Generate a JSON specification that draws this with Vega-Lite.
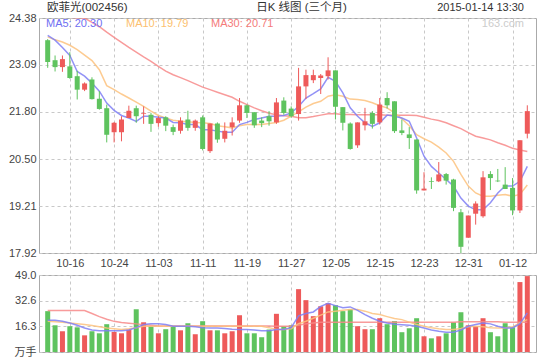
{
  "$schema": "https://vega.github.io/schema/vega-lite/v6.json",
  "padding": {"left": 0, "top": 1, "right": 0, "bottom": 0},
  "background": "white",
  "spacing": -2,
  "config": {
    "view": {"stroke": "#aaaaaa", "strokeWidth": 1},
    "axis": {"labelFont": "Liberation Sans, Noto Sans CJK SC", "labelFontSize": 11, "labelColor": "#444444", "ticks": false, "domain": false, "gridColor": "#c8c8c8", "gridDash": [3, 3], "gridWidth": 1},
    "axisY": {"labelFlush": false, "labelBaseline": "middle"},
    "text": {"font": "Liberation Sans, Noto Sans CJK SC"}
  },
  "datasets": {
    "k": [
      {"d":"10-13","i":1,"o":23.77,"h":23.80,"l":23.01,"c":23.17,"v":26.0,"m5":23.90,"m10":23.86,"m30":24.42,"vm5":20.2,"vm10":19.6,"vm30":26.4},
      {"d":"10-14","i":2,"o":23.22,"h":23.35,"l":22.91,"c":23.03,"v":17.0,"m5":23.77,"m10":23.78,"m30":24.42,"vm5":20.2,"vm10":19.3,"vm30":26.4},
      {"d":"10-15","i":3,"o":23.03,"h":23.35,"l":22.90,"c":23.25,"v":13.2,"m5":23.57,"m10":23.72,"m30":24.41,"vm5":19.6,"vm10":19.0,"vm30":26.4},
      {"d":"10-16","i":4,"o":23.05,"h":23.44,"l":22.71,"c":22.73,"v":16.4,"m5":23.35,"m10":23.63,"m30":24.40,"vm5":18.5,"vm10":18.5,"vm30":26.4},
      {"d":"10-17","i":5,"o":22.78,"h":22.93,"l":22.14,"c":22.41,"v":15.7,"m5":22.91,"m10":23.51,"m30":24.39,"vm5":17.0,"vm10":18.0,"vm30":26.4},
      {"d":"10-20","i":6,"o":22.41,"h":22.61,"l":22.37,"c":22.58,"v":10.6,"m5":22.78,"m10":23.36,"m30":24.38,"vm5":15.3,"vm10":17.5,"vm30":26.4},
      {"d":"10-21","i":7,"o":22.69,"h":22.75,"l":22.14,"c":22.15,"v":13.2,"m5":22.59,"m10":23.21,"m30":24.26,"vm5":14.0,"vm10":16.8,"vm30":24.5},
      {"d":"10-22","i":8,"o":22.16,"h":22.37,"l":21.86,"c":21.88,"v":11.9,"m5":22.37,"m10":22.96,"m30":24.14,"vm5":13.6,"vm10":16.0,"vm30":22.5},
      {"d":"10-23","i":9,"o":21.90,"h":22.00,"l":20.96,"c":21.17,"v":17.7,"m5":22.04,"m10":22.52,"m30":23.99,"vm5":13.6,"vm10":15.3,"vm30":20.8},
      {"d":"10-24","i":10,"o":21.24,"h":21.52,"l":20.96,"c":21.50,"v":12.8,"m5":21.84,"m10":22.41,"m30":23.85,"vm5":13.6,"vm10":14.8,"vm30":19.5},
      {"d":"10-27","i":11,"o":21.24,"h":21.68,"l":20.99,"c":21.59,"v":11.9,"m5":21.70,"m10":22.29,"m30":23.71,"vm5":13.6,"vm10":14.3,"vm30":18.8},
      {"d":"10-28","i":12,"o":21.63,"h":21.97,"l":21.63,"c":21.83,"v":14.3,"m5":21.63,"m10":22.18,"m30":23.57,"vm5":14.0,"vm10":14.8,"vm30":18.3},
      {"d":"10-29","i":13,"o":21.90,"h":21.97,"l":21.50,"c":21.68,"v":27.2,"m5":21.54,"m10":22.07,"m30":23.44,"vm5":15.5,"vm10":15.5,"vm30":17.9},
      {"d":"10-30","i":14,"o":21.74,"h":21.95,"l":21.47,"c":21.76,"v":18.9,"m5":21.68,"m10":21.95,"m30":23.31,"vm5":17.5,"vm10":16.4,"vm30":17.3},
      {"d":"10-31","i":15,"o":21.72,"h":21.77,"l":21.25,"c":21.47,"v":16.4,"m5":21.68,"m10":21.82,"m30":23.19,"vm5":17.9,"vm10":16.4,"vm30":17.0},
      {"d":"11-03","i":16,"o":21.49,"h":21.68,"l":21.39,"c":21.63,"v":11.9,"m5":21.65,"m10":21.70,"m30":23.05,"vm5":17.9,"vm10":16.4,"vm30":16.6},
      {"d":"11-04","i":17,"o":21.65,"h":21.68,"l":21.27,"c":21.42,"v":14.5,"m5":21.63,"m10":21.63,"m30":22.92,"vm5":17.5,"vm10":16.4,"vm30":16.6},
      {"d":"11-05","i":18,"o":21.38,"h":21.45,"l":21.16,"c":21.25,"v":16.4,"m5":21.51,"m10":21.57,"m30":22.82,"vm5":16.4,"vm10":16.4,"vm30":16.6},
      {"d":"11-06","i":19,"o":21.28,"h":21.65,"l":21.20,"c":21.56,"v":13.8,"m5":21.50,"m10":21.54,"m30":22.74,"vm5":16.4,"vm10":16.4,"vm30":16.6},
      {"d":"11-07","i":20,"o":21.59,"h":21.83,"l":21.28,"c":21.36,"v":18.3,"m5":21.45,"m10":21.53,"m30":22.66,"vm5":16.4,"vm10":16.4,"vm30":16.6},
      {"d":"11-10","i":21,"o":21.36,"h":21.59,"l":21.28,"c":21.56,"v":11.3,"m5":21.45,"m10":21.51,"m30":22.57,"vm5":16.0,"vm10":16.4,"vm30":16.6},
      {"d":"11-11","i":22,"o":21.65,"h":21.70,"l":20.74,"c":20.78,"v":19.6,"m5":21.31,"m10":21.50,"m30":22.48,"vm5":15.5,"vm10":16.4,"vm30":16.6},
      {"d":"11-12","i":23,"o":20.72,"h":21.48,"l":20.67,"c":21.48,"v":13.8,"m5":21.31,"m10":21.48,"m30":22.41,"vm5":15.3,"vm10":16.4,"vm30":16.6},
      {"d":"11-13","i":24,"o":21.48,"h":21.51,"l":20.95,"c":21.04,"v":13.8,"m5":21.27,"m10":21.42,"m30":22.34,"vm5":15.3,"vm10":16.4,"vm30":16.6},
      {"d":"11-14","i":25,"o":21.06,"h":21.51,"l":20.96,"c":21.28,"v":11.9,"m5":21.24,"m10":21.39,"m30":22.27,"vm5":15.0,"vm10":16.4,"vm30":16.6},
      {"d":"11-17","i":26,"o":21.38,"h":21.65,"l":21.15,"c":21.51,"v":13.2,"m5":21.24,"m10":21.36,"m30":22.20,"vm5":14.5,"vm10":16.4,"vm30":16.6},
      {"d":"11-18","i":27,"o":21.56,"h":22.18,"l":21.50,"c":21.98,"v":23.4,"m5":21.45,"m10":21.42,"m30":22.09,"vm5":14.3,"vm10":16.4,"vm30":16.6},
      {"d":"11-19","i":28,"o":21.98,"h":22.00,"l":21.63,"c":21.77,"v":11.9,"m5":21.51,"m10":21.45,"m30":22.00,"vm5":14.3,"vm10":16.4,"vm30":16.6},
      {"d":"11-20","i":29,"o":21.79,"h":21.79,"l":21.36,"c":21.43,"v":11.9,"m5":21.59,"m10":21.45,"m30":21.91,"vm5":14.0,"vm10":16.4,"vm30":16.6},
      {"d":"11-21","i":30,"o":21.56,"h":21.65,"l":21.38,"c":21.49,"v":9.4,"m5":21.63,"m10":21.45,"m30":21.83,"vm5":13.6,"vm10":16.4,"vm30":16.6},
      {"d":"11-24","i":31,"o":21.68,"h":21.82,"l":21.42,"c":21.54,"v":14.3,"m5":21.68,"m10":21.48,"m30":21.76,"vm5":13.6,"vm10":15.5,"vm30":16.6},
      {"d":"11-25","i":32,"o":21.51,"h":22.18,"l":21.47,"c":22.06,"v":24.3,"m5":21.68,"m10":21.51,"m30":21.72,"vm5":14.3,"vm10":14.3,"vm30":16.4},
      {"d":"11-26","i":33,"o":22.11,"h":22.20,"l":21.72,"c":21.77,"v":16.4,"m5":21.70,"m10":21.57,"m30":21.69,"vm5":14.3,"vm10":14.3,"vm30":16.4},
      {"d":"11-27","i":34,"o":21.89,"h":21.95,"l":21.64,"c":21.68,"v":17.0,"m5":21.77,"m10":21.68,"m30":21.68,"vm5":15.5,"vm10":14.8,"vm30":16.4},
      {"d":"11-28","i":35,"o":21.74,"h":23.01,"l":21.56,"c":22.50,"v":40.0,"m5":21.95,"m10":21.80,"m30":21.64,"vm5":23.0,"vm10":18.0,"vm30":17.0},
      {"d":"12-01","i":36,"o":22.50,"h":22.96,"l":22.15,"c":22.81,"v":33.0,"m5":22.18,"m10":21.93,"m30":21.64,"vm5":24.5,"vm10":19.6,"vm30":17.9},
      {"d":"12-02","i":37,"o":22.67,"h":22.96,"l":22.59,"c":22.81,"v":22.8,"m5":22.30,"m10":22.03,"m30":21.67,"vm5":25.5,"vm10":21.5,"vm30":18.4},
      {"d":"12-03","i":38,"o":22.73,"h":22.84,"l":22.29,"c":22.80,"v":29.1,"m5":22.43,"m10":22.09,"m30":21.71,"vm5":29.0,"vm10":23.5,"vm30":18.9},
      {"d":"12-04","i":39,"o":22.78,"h":23.30,"l":22.69,"c":22.94,"v":31.1,"m5":22.75,"m10":22.23,"m30":21.75,"vm5":31.0,"vm10":25.5,"vm30":18.9},
      {"d":"12-05","i":40,"o":22.94,"h":22.94,"l":21.59,"c":21.94,"v":29.8,"m5":22.64,"m10":22.27,"m30":21.75,"vm5":29.5,"vm10":26.0,"vm30":18.9},
      {"d":"12-08","i":41,"o":21.93,"h":21.93,"l":21.29,"c":21.50,"v":26.0,"m5":22.32,"m10":22.23,"m30":21.73,"vm5":28.2,"vm10":26.5,"vm30":18.9},
      {"d":"12-09","i":42,"o":21.48,"h":21.51,"l":20.76,"c":20.78,"v":27.2,"m5":21.91,"m10":22.15,"m30":21.73,"vm5":28.7,"vm10":27.0,"vm30":18.9},
      {"d":"12-10","i":43,"o":20.88,"h":21.51,"l":20.81,"c":21.51,"v":16.4,"m5":21.68,"m10":22.14,"m30":21.72,"vm5":26.5,"vm10":27.0,"vm30":18.9},
      {"d":"12-11","i":44,"o":21.43,"h":21.91,"l":21.29,"c":21.54,"v":14.5,"m5":21.50,"m10":22.11,"m30":21.72,"vm5":23.8,"vm10":26.0,"vm30":18.9},
      {"d":"12-12","i":45,"o":21.77,"h":21.82,"l":21.34,"c":21.47,"v":14.5,"m5":21.40,"m10":22.05,"m30":21.72,"vm5":21.5,"vm10":24.5,"vm30":18.9},
      {"d":"12-15","i":46,"o":21.51,"h":22.18,"l":21.45,"c":22.00,"v":21.5,"m5":21.50,"m10":21.97,"m30":21.72,"vm5":19.6,"vm10":23.8,"vm30":18.9},
      {"d":"12-16","i":47,"o":22.18,"h":22.34,"l":21.89,"c":21.98,"v":17.7,"m5":21.71,"m10":21.91,"m30":21.71,"vm5":18.5,"vm10":22.5,"vm30":18.9},
      {"d":"12-17","i":48,"o":22.09,"h":22.09,"l":21.22,"c":21.27,"v":19.6,"m5":21.68,"m10":21.77,"m30":21.71,"vm5":17.6,"vm10":21.3,"vm30":18.9},
      {"d":"12-18","i":49,"o":21.29,"h":21.59,"l":21.16,"c":21.22,"v":12.6,"m5":21.63,"m10":21.61,"m30":21.71,"vm5":17.4,"vm10":20.6,"vm30":18.9},
      {"d":"12-19","i":50,"o":21.18,"h":21.38,"l":20.78,"c":21.08,"v":15.1,"m5":21.54,"m10":21.42,"m30":21.71,"vm5":17.0,"vm10":19.0,"vm30":18.9},
      {"d":"12-22","i":51,"o":21.04,"h":21.04,"l":19.55,"c":19.64,"v":21.5,"m5":21.08,"m10":21.17,"m30":21.70,"vm5":16.4,"vm10":17.5,"vm30":18.9},
      {"d":"12-23","i":52,"o":19.64,"h":20.14,"l":19.64,"c":19.69,"v":10.0,"m5":20.58,"m10":21.06,"m30":21.65,"vm5":15.3,"vm10":16.4,"vm30":18.9},
      {"d":"12-24","i":53,"o":19.90,"h":20.00,"l":19.68,"c":19.88,"v":8.7,"m5":20.30,"m10":20.97,"m30":21.60,"vm5":14.0,"vm10":15.5,"vm30":18.9},
      {"d":"12-25","i":54,"o":19.89,"h":20.42,"l":19.87,"c":20.08,"v":10.0,"m5":20.12,"m10":20.83,"m30":21.56,"vm5":13.2,"vm10":14.8,"vm30":18.9},
      {"d":"12-26","i":55,"o":20.09,"h":20.12,"l":19.80,"c":19.91,"v":11.9,"m5":19.94,"m10":20.67,"m30":21.50,"vm5":12.6,"vm10":14.3,"vm30":18.9},
      {"d":"12-29","i":56,"o":19.94,"h":19.96,"l":19.07,"c":19.16,"v":18.9,"m5":19.76,"m10":20.44,"m30":21.42,"vm5":12.6,"vm10":14.3,"vm30":18.9},
      {"d":"12-30","i":57,"o":19.04,"h":19.13,"l":17.92,"c":18.09,"v":25.3,"m5":19.43,"m10":20.08,"m30":21.34,"vm5":14.0,"vm10":15.0,"vm30":19.2},
      {"d":"12-31","i":58,"o":18.34,"h":18.95,"l":18.34,"c":18.95,"v":17.0,"m5":19.21,"m10":19.76,"m30":21.23,"vm5":16.4,"vm10":16.0,"vm30":19.2},
      {"d":"01-05","i":59,"o":19.00,"h":19.34,"l":18.70,"c":19.28,"v":16.4,"m5":19.11,"m10":19.57,"m30":21.13,"vm5":17.5,"vm10":16.4,"vm30":19.2},
      {"d":"01-06","i":60,"o":18.93,"h":20.17,"l":18.89,"c":20.00,"v":21.5,"m5":19.11,"m10":19.48,"m30":21.08,"vm5":18.5,"vm10":16.0,"vm30":19.2},
      {"d":"01-07","i":61,"o":20.09,"h":20.17,"l":19.65,"c":19.98,"v":12.6,"m5":19.30,"m10":19.48,"m30":21.03,"vm5":17.9,"vm10":15.5,"vm30":19.2},
      {"d":"01-08","i":62,"o":19.91,"h":20.23,"l":19.87,"c":19.89,"v":10.0,"m5":19.57,"m10":19.51,"m30":20.95,"vm5":16.4,"vm10":15.3,"vm30":19.2},
      {"d":"01-09","i":63,"o":19.80,"h":20.28,"l":19.68,"c":19.68,"v":18.3,"m5":19.76,"m10":19.53,"m30":20.88,"vm5":15.3,"vm10":15.3,"vm30":18.9},
      {"d":"01-12","i":64,"o":19.71,"h":19.98,"l":18.96,"c":19.09,"v":15.7,"m5":19.76,"m10":19.48,"m30":20.80,"vm5":15.3,"vm10":16.0,"vm30":18.9},
      {"d":"01-13","i":65,"o":19.09,"h":21.02,"l":19.02,"c":21.02,"v":44.5,"m5":19.89,"m10":19.53,"m30":20.75,"vm5":18.0,"vm10":18.5,"vm30":18.9},
      {"d":"01-14","i":66,"o":21.20,"h":21.98,"l":21.07,"c":21.82,"v":48.3,"m5":20.30,"m10":19.79,"m30":20.71,"vm5":24.9,"vm10":20.6,"vm30":18.9}
    ]
  },
  "vconcat": [
    {
      "width": 497,
      "height": 235,
      "layer": [
        {
          "data": {"name": "k"},
          "transform": [{"fold": ["m30", "m10", "m5"], "as": ["key", "value"]}],
          "mark": {"type": "line", "strokeWidth": 1.5, "opacity": 0.85, "clip": true},
          "encoding": {
            "x": {"field": "i", "type": "quantitative", "scale": {"domain": [0.5, 66.5], "nice": false, "zero": false},
                  "axis": {"title": null, "values": [4, 10, 16, 22, 28, 34, 40, 46, 52, 58, 64], "labelExpr": "['10-16','10-24','11-03','11-11','11-19','11-27','12-05','12-15','12-23','12-31','01-12'][(datum.value-4)/6]", "grid": true, "labelPadding": 4, "minExtent": 16, "maxExtent": 16, "labelFlush": false}},
            "y": {"field": "value", "type": "quantitative", "scale": {"domain": [17.92, 24.38], "nice": false, "zero": false},
                  "axis": {"title": null, "values": [17.92, 19.21, 20.5, 21.8, 23.09, 24.38], "format": ".2f", "grid": true, "labelFlush": false, "labelBaseline": "middle", "minExtent": 38, "maxExtent": 38, "labelPadding": 3}},
            "color": {"field": "key", "type": "nominal", "scale": {"domain": ["m5", "m10", "m30", "vm5", "vm10", "vm30"], "range": ["#7f7ff5", "#fdc27e", "#f78a8a", "#7f7ff5", "#fdc27e", "#f78a8a"]}, "legend": null}
          }
        },
        {
          "data": {"name": "k"},
          "mark": {"type": "rule", "strokeWidth": 1},
          "encoding": {
            "x": {"field": "i", "type": "quantitative"},
            "y": {"field": "l", "type": "quantitative", "axis": {"title": null, "values": [17.92, 19.21, 20.5, 21.8, 23.09, 24.38], "format": ".2f", "grid": true, "labelFlush": false, "labelBaseline": "middle", "minExtent": 38, "maxExtent": 38, "labelPadding": 3}},
            "y2": {"field": "h"},
            "color": {"condition": {"test": "datum.c >= datum.o", "value": "#ee5a5a"}, "value": "#5ec35e"}
          }
        },
        {
          "data": {"name": "k"},
          "mark": {"type": "bar", "size": 5},
          "encoding": {
            "x": {"field": "i", "type": "quantitative"},
            "y": {"field": "o", "type": "quantitative", "axis": {"title": null, "values": [17.92, 19.21, 20.5, 21.8, 23.09, 24.38], "format": ".2f", "grid": true, "labelFlush": false, "labelBaseline": "middle", "minExtent": 38, "maxExtent": 38, "labelPadding": 3}},
            "y2": {"field": "c"},
            "color": {"condition": {"test": "datum.c >= datum.o", "value": "#ee5a5a"}, "value": "#5ec35e"}
          }
        },
        {
          "data": {"values": [{}]},
          "mark": {"type": "text", "align": "left", "baseline": "middle", "dx": 3, "dy": -10, "fontSize": 11.5, "color": "#333333"},
          "encoding": {"x": {"datum": 0.5, "type": "quantitative"}, "y": {"datum": 24.38, "type": "quantitative"}, "text": {"value": "欧菲光(002456)"}}
        },
        {
          "data": {"values": [{}]},
          "mark": {"type": "text", "align": "center", "baseline": "middle", "dx": 14, "dy": -10, "fontSize": 11.5, "color": "#333333"},
          "encoding": {"x": {"datum": 33.5, "type": "quantitative"}, "y": {"datum": 24.38, "type": "quantitative"}, "text": {"value": "日K 线图 (三个月)"}}
        },
        {
          "data": {"values": [{}]},
          "mark": {"type": "text", "align": "right", "baseline": "middle", "dx": -7, "dy": -10, "fontSize": 11, "color": "#333333"},
          "encoding": {"x": {"datum": 66.5, "type": "quantitative"}, "y": {"datum": 24.38, "type": "quantitative"}, "text": {"value": "2015-01-14 13:30"}}
        },
        {
          "data": {"values": [{}]},
          "mark": {"type": "text", "align": "left", "baseline": "middle", "dx": 2, "dy": 6, "fontSize": 11, "color": "#6f6ff2"},
          "encoding": {"x": {"datum": 0.5, "type": "quantitative"}, "y": {"datum": 24.38, "type": "quantitative"}, "text": {"value": "MA5: 20.30"}}
        },
        {
          "data": {"values": [{}]},
          "mark": {"type": "text", "align": "left", "baseline": "middle", "dx": 82, "dy": 6, "fontSize": 11, "color": "#fcbf70"},
          "encoding": {"x": {"datum": 0.5, "type": "quantitative"}, "y": {"datum": 24.38, "type": "quantitative"}, "text": {"value": "MA10: 19.79"}}
        },
        {
          "data": {"values": [{}]},
          "mark": {"type": "text", "align": "left", "baseline": "middle", "dx": 167, "dy": 6, "fontSize": 11, "color": "#f47a7a"},
          "encoding": {"x": {"datum": 0.5, "type": "quantitative"}, "y": {"datum": 24.38, "type": "quantitative"}, "text": {"value": "MA30: 20.71"}}
        },
        {
          "data": {"values": [{}]},
          "mark": {"type": "text", "align": "right", "baseline": "middle", "dx": -7, "dy": 6, "fontSize": 11, "color": "#cccccc"},
          "encoding": {"x": {"datum": 66.5, "type": "quantitative"}, "y": {"datum": 24.38, "type": "quantitative"}, "text": {"value": "163.com"}}
        }
      ]
    },
    {
      "width": 497,
      "height": 77,
      "data": {"name": "k"},
      "layer": [
        {
          "mark": {"type": "bar", "size": 5},
          "encoding": {
            "x": {"field": "i", "type": "quantitative", "scale": {"domain": [0.5, 66.5], "nice": false, "zero": false},
                  "axis": {"title": null, "values": [4, 10, 16, 22, 28, 34, 40, 46, 52, 58, 64], "labels": false, "grid": true, "minExtent": 0, "maxExtent": 0}},
            "y": {"field": "v", "type": "quantitative", "scale": {"domain": [0, 49], "nice": false},
                  "axis": {"title": null, "values": [0, 16.3, 32.6, 49], "labelExpr": "datum.value == 0 ? '万手' : format(datum.value, '.1f')", "grid": true, "labelFlush": false, "labelBaseline": "middle", "minExtent": 38, "maxExtent": 38, "labelPadding": 3}},
            "color": {"condition": {"test": "datum.c >= datum.o", "value": "#ee5a5a"}, "value": "#5ec35e"}
          }
        },
        {
          "transform": [{"fold": ["vm30", "vm10", "vm5"], "as": ["key", "value"]}],
          "mark": {"type": "line", "strokeWidth": 1.5, "opacity": 0.85, "clip": true},
          "encoding": {
            "x": {"field": "i", "type": "quantitative"},
            "y": {"field": "value", "type": "quantitative", "axis": {"title": null, "values": [0, 16.3, 32.6, 49], "labelExpr": "datum.value == 0 ? '万手' : format(datum.value, '.1f')", "grid": true, "labelFlush": false, "labelBaseline": "middle", "minExtent": 38, "maxExtent": 38, "labelPadding": 3}},
            "color": {"field": "key", "type": "nominal", "scale": {"domain": ["m5", "m10", "m30", "vm5", "vm10", "vm30"], "range": ["#7f7ff5", "#fdc27e", "#f78a8a", "#7f7ff5", "#fdc27e", "#f78a8a"]}, "legend": null}
          }
        }
      ]
    }
  ]
}
